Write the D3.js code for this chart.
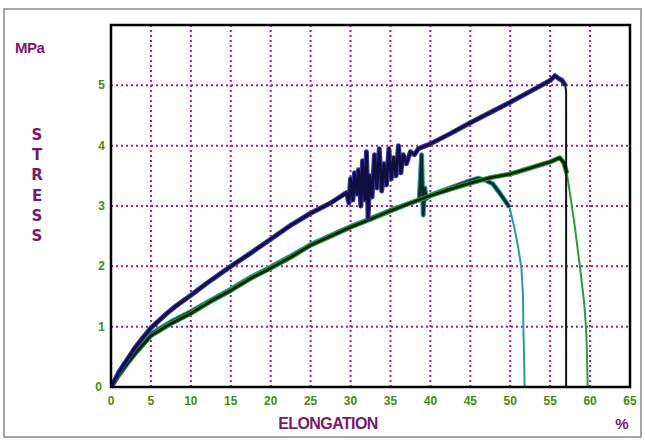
<!DOCTYPE html>
<html>
<head>
<meta charset="utf-8">
<script src="https://cdn.jsdelivr.net/npm/d3@7"></script>
<style>
  body { margin: 0; background: #fff; }
  svg { display: block; }
</style>
</head>
<body>
<svg id="chart" width="645" height="441"></svg>
<script>
// 1: DATA (elongation % vs stress MPa)
const xTicks = [0, 5, 10, 15, 20, 25, 30, 35, 40, 45, 50, 55, 60, 65];
const yTicks = [0, 1, 2, 3, 4, 5];

// dark blue sample
const blueRise = [
  [0, 0], [0.5, 0.12], [1, 0.25], [2, 0.45], [3, 0.65], [4, 0.82], [5, 0.98], [6, 1.1],
  [7, 1.22], [8, 1.33], [10, 1.52], [12, 1.72], [15, 2.0], [17.5, 2.22], [20, 2.45],
  [22.5, 2.68], [25, 2.88], [27.5, 3.05], [29.5, 3.22], [29.8, 3.05], [30.0, 3.45],
  [30.3, 3.1], [30.5, 3.55], [30.8, 3.2], [31.0, 3.6], [31.3, 3.0], [31.5, 3.75],
  [31.8, 3.1], [32.0, 3.9], [32.2, 2.8], [32.4, 3.5], [32.7, 3.15], [33.0, 3.85],
  [33.3, 3.3], [33.6, 3.95], [33.9, 3.25], [34.2, 3.7], [34.5, 3.35], [34.8, 3.95],
  [35.1, 3.45], [35.4, 3.8], [35.7, 3.5], [36.0, 4.0], [36.3, 3.55], [36.6, 3.85],
  [37.0, 3.7], [37.5, 3.9], [38.0, 3.85], [38.5, 3.95], [40, 4.03], [42.5, 4.2],
  [45, 4.38], [47.5, 4.55], [50, 4.72], [52.5, 4.9], [55, 5.08], [55.6, 5.16],
  [56, 5.12], [56.5, 5.08], [56.9, 5.0]
];
const blueDrop = [[56.9, 5.0], [57, 4.9], [57, 0]];

// teal sample
const tealRise = [
  [0, 0], [1, 0.22], [2, 0.42], [3, 0.6], [5, 0.88], [7.5, 1.08], [10, 1.25],
  [12.5, 1.44], [15, 1.62], [17.5, 1.82], [20, 1.99], [22.5, 2.17], [25, 2.36],
  [27.5, 2.51], [30, 2.66], [32.5, 2.79], [35, 2.93], [37.5, 3.05], [38.6, 3.1],
  [38.9, 3.85], [39.1, 2.85], [39.3, 3.3], [39.5, 3.12], [40, 3.18], [42.5, 3.3],
  [45, 3.42], [46, 3.46], [47, 3.42], [47.8, 3.37], [48.6, 3.23], [49.9, 2.98]
];
const tealDrop = [
  [49.9, 2.98], [50.5, 2.65], [51, 2.31], [51.4, 1.97], [51.6, 1.52], [51.65, 0.97],
  [51.75, 0.4], [51.8, 0]
];

// green sample
const greenRise = [
  [0, 0], [1, 0.2], [2, 0.38], [3, 0.55], [5, 0.85], [7.5, 1.05], [10, 1.22],
  [12.5, 1.42], [15, 1.6], [17.5, 1.8], [20, 1.97], [22.5, 2.15], [25, 2.35],
  [27.5, 2.5], [30, 2.65], [32.5, 2.78], [35, 2.92], [37.5, 3.05], [40, 3.17],
  [42.5, 3.28], [45, 3.38], [47.5, 3.47], [50, 3.53], [52.5, 3.63], [55, 3.73],
  [56.2, 3.8], [56.7, 3.72], [57.1, 3.54]
];
const greenDrop = [
  [57.1, 3.54], [57.6, 3.1], [58.1, 2.65], [58.75, 1.97], [59.25, 1.41],
  [59.5, 0.97], [59.6, 0.62], [59.7, 0]
];

// 2: LAYOUT
const margin = { top: 25, right: 15, bottom: 54, left: 111 };
const width = 630 - margin.left;
const height = 387 - margin.top;

const svg = d3.select("#chart");

// outer grey border
svg.append("rect")
  .attr("x", 4).attr("y", 9)
  .attr("width", 637).attr("height", 428)
  .attr("fill", "none")
  .attr("stroke", "#8a8a8a")
  .attr("stroke-width", 1.5);

const g = svg.append("g")
  .attr("transform", `translate(${margin.left},${margin.top})`);

// 3: SCALES
const xScale = d3.scaleLinear().domain([0, 65]).range([0, width]);
const yScale = d3.scaleLinear().domain([0, 6]).range([height, 0]);

// 4: GRID (dotted purple)
g.append("g")
  .selectAll("line")
  .data(xTicks.filter(d => d > 0 && d < 65))
  .join("line")
  .attr("x1", d => xScale(d)).attr("x2", d => xScale(d))
  .attr("y1", 0).attr("y2", height)
  .attr("stroke", "#a3218f")
  .attr("stroke-width", 2)
  .attr("stroke-dasharray", "2,3");

g.append("g")
  .selectAll("line")
  .data(yTicks.filter(d => d > 0))
  .join("line")
  .attr("x1", 0).attr("x2", width)
  .attr("y1", d => yScale(d)).attr("y2", d => yScale(d))
  .attr("stroke", "#a3218f")
  .attr("stroke-width", 2)
  .attr("stroke-dasharray", "2,3");

// 5: CURVES
g.append("clipPath").attr("id", "plotClip")
  .append("rect").attr("width", width).attr("height", height);

const line = d3.line()
  .x(d => xScale(d[0]))
  .y(d => yScale(d[1]));

const curves = g.append("g").attr("clip-path", "url(#plotClip)");

function drawCurve(rise, drop, fringe, core, dropColor) {
  curves.append("path").datum(rise)
    .attr("d", line).attr("fill", "none")
    .attr("stroke", fringe).attr("stroke-width", 5)
    .attr("stroke-linejoin", "round");
  curves.append("path").datum(rise)
    .attr("d", line).attr("fill", "none")
    .attr("stroke", core).attr("stroke-width", 2.8)
    .attr("stroke-linejoin", "round");
  curves.append("path").datum(drop)
    .attr("d", line).attr("fill", "none")
    .attr("stroke", dropColor).attr("stroke-width", 2);
}

drawCurve(tealRise, tealDrop, "#2aa0a8", "#0b2a2a", "#2a9aa0");
drawCurve(greenRise, greenDrop, "#2f9a3a", "#0a2410", "#2f9a3a");
drawCurve(blueRise, blueDrop, "#3a3aa8", "#120f40", "#111");

// 6: FRAME
g.append("rect")
  .attr("width", width).attr("height", height)
  .attr("fill", "none")
  .attr("stroke", "#000")
  .attr("stroke-width", 2.5);

// 7: TICK LABELS
const tickFont = "'Liberation Sans', Arial, sans-serif";
g.append("g")
  .selectAll("text")
  .data(xTicks)
  .join("text")
  .attr("x", d => xScale(d))
  .attr("y", height + 18)
  .attr("text-anchor", "middle")
  .attr("font-family", tickFont)
  .attr("font-weight", "bold")
  .attr("font-size", 12)
  .attr("fill", "#4a8a12")
  .text(d => d);

g.append("g")
  .selectAll("text")
  .data(yTicks)
  .join("text")
  .attr("x", d => d === 0 ? -9 : -6)
  .attr("y", d => yScale(d) + 4)
  .attr("text-anchor", "end")
  .attr("font-family", tickFont)
  .attr("font-weight", "bold")
  .attr("font-size", 12)
  .attr("fill", "#4a8a12")
  .text(d => d);

// 8: AXIS TITLES
const titleColor = "#7a1870";
svg.append("text")
  .attr("x", 15).attr("y", 53)
  .attr("font-family", tickFont)
  .attr("font-weight", "bold")
  .attr("font-size", 15)
  .attr("letter-spacing", -0.5)
  .attr("fill", titleColor)
  .text("MPa");

svg.append("g")
  .selectAll("text")
  .data("STRESS".split(""))
  .join("text")
  .attr("x", 37)
  .attr("y", (d, i) => 140 + i * 20.2)
  .attr("text-anchor", "middle")
  .attr("font-family", "'DejaVu Sans', sans-serif")
  .attr("font-weight", "bold")
  .attr("font-size", 15)
  .attr("fill", titleColor)
  .text(d => d);

svg.append("text")
  .attr("x", 328).attr("y", 429)
  .attr("text-anchor", "middle")
  .attr("font-family", tickFont)
  .attr("font-weight", "bold")
  .attr("font-size", 16)
  .attr("letter-spacing", -0.6)
  .attr("fill", titleColor)
  .text("ELONGATION");

svg.append("text")
  .attr("x", 622).attr("y", 429)
  .attr("text-anchor", "middle")
  .attr("font-family", tickFont)
  .attr("font-weight", "bold")
  .attr("font-size", 15)
  .attr("fill", titleColor)
  .text("%");
</script>
</body>
</html>
